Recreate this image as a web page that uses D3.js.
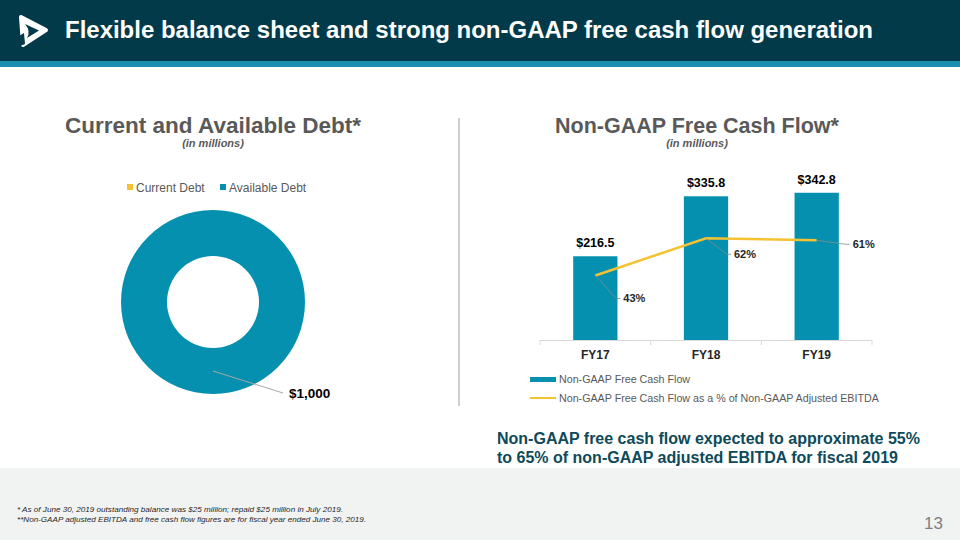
<!DOCTYPE html>
<html>
<head>
<meta charset="utf-8">
<script src="https://cdn.jsdelivr.net/npm/d3@7"></script>
<style>
  html, body { margin: 0; padding: 0; background: #fff; }
  svg { display: block; font-family: Arial, "Liberation Sans", sans-serif; }
</style>
</head>
<body>
<svg id="chart" width="960" height="540"></svg>
<script>
// donut data (in millions)
var debtNames = ["Current Debt", "Available Debt"];
var debtValues = [0, 1000];
var debtColors = ["#f5c231", "#0590b0"];

// free cash flow data
var years = ["FY17", "FY18", "FY19"];
var fcfValues = [216.5, 335.8, 342.8];
var fcfPct = [43, 62, 61];

// leader offsets for the % labels (elbow relative to the point)
var pctLeader = [[21, 23], [21, 16], [29, 4]];

var svg = d3.select("#chart");
var grey = "#595959";

// header
svg.append("rect").attr("x", 0).attr("y", 0).attr("width", 960).attr("height", 62).attr("fill", "#033a49");
svg.append("rect").attr("x", 0).attr("y", 61).attr("width", 960).attr("height", 6).attr("fill", "#1b8db0");

// logo
var logo = svg.append("g");
logo.append("path")
  .attr("d", "M21,17 L46,30 L23,45 Z")
  .attr("fill", "#fff").attr("stroke", "#fff")
  .attr("stroke-width", 4).attr("stroke-linejoin", "round");
logo.append("path")
  .attr("d", "M25,24 L39,30.5 L27,38 Q31,31 25,24 Z")
  .attr("fill", "#033a49");
logo.append("path")
  .attr("d", "M19,36 L24,33 L25,44 L20,46 Z")
  .attr("fill", "#033a49");

svg.append("text")
  .attr("x", 65).attr("y", 38)
  .attr("fill", "#fff")
  .attr("font-size", 23).attr("font-weight", "bold")
  .attr("textLength", 808).attr("lengthAdjust", "spacingAndGlyphs")
  .text("Flexible balance sheet and strong non-GAAP free cash flow generation");

// footer band
svg.append("rect").attr("x", 0).attr("y", 468).attr("width", 960).attr("height", 72).attr("fill", "#f1f3f3");

svg.append("text").attr("x", 17).attr("y", 512)
  .attr("font-size", 7.5).attr("font-style", "italic").attr("fill", "#262626")
  .attr("textLength", 326).attr("lengthAdjust", "spacingAndGlyphs")
  .text("* As of June 30, 2019 outstanding balance was $25 million; repaid $25 million in July 2019.");
svg.append("text").attr("x", 17).attr("y", 522)
  .attr("font-size", 7.5).attr("font-style", "italic").attr("fill", "#262626")
  .attr("textLength", 349).attr("lengthAdjust", "spacingAndGlyphs")
  .text("**Non-GAAP adjusted EBITDA and free cash flow figures are for fiscal year ended June 30, 2019.");
svg.append("text").attr("x", 943).attr("y", 529)
  .attr("text-anchor", "end")
  .attr("font-size", 17).attr("fill", "#7f7f7f")
  .text("13");

// divider
svg.append("line").attr("x1", 459).attr("x2", 459).attr("y1", 118).attr("y2", 406)
  .attr("stroke", "#bfbfbf").attr("stroke-width", 1.5);

// ---------- left: donut ----------
svg.append("text").attr("x", 213).attr("y", 133)
  .attr("text-anchor", "middle").attr("font-size", 22.5).attr("font-weight", "bold")
  .attr("fill", grey).text("Current and Available Debt*");
svg.append("text").attr("x", 213).attr("y", 147)
  .attr("text-anchor", "middle").attr("font-size", 11).attr("font-weight", "bold")
  .attr("font-style", "italic").attr("fill", grey).text("(in millions)");

var leg = svg.append("g");
var legX = [127, 220];
debtNames.forEach(function(name, i) {
  leg.append("rect").attr("x", legX[i]).attr("y", 184).attr("width", 6).attr("height", 6)
    .attr("fill", debtColors[i]);
  leg.append("text").attr("x", legX[i] + 9).attr("y", 191.5)
    .attr("font-size", 12).attr("fill", grey).text(name);
});

var cx = 213, cy = 302;
var pie = d3.pie().sort(null);
var arc = d3.arc().innerRadius(46).outerRadius(92);
var labelArc = d3.arc().innerRadius(69).outerRadius(69);
var donut = svg.append("g").attr("transform", "translate(" + cx + "," + cy + ")");

var arcs = pie(debtValues);
donut.selectAll("path")
  .data(arcs)
  .enter().append("path")
    .attr("d", arc)
    .attr("fill", function(d, i) { return debtColors[i]; });

arcs.forEach(function(d) {
  if (d.value == 0) return;
  var c = labelArc.centroid(d);
  donut.append("polyline")
    .attr("points", [c, [c[0] + 70, c[1] + 22]].map(function(p) { return p.join(","); }).join(" "))
    .attr("fill", "none").attr("stroke", "#a6a6a6").attr("stroke-width", 1);
  donut.append("text")
    .attr("x", c[0] + 76).attr("y", c[1] + 27)
    .attr("font-size", 13.5).attr("font-weight", "bold").attr("fill", "#000")
    .text("$" + d3.format(",")(d.value));
});

// ---------- right: free cash flow ----------
svg.append("text").attr("x", 697).attr("y", 133)
  .attr("text-anchor", "middle").attr("font-size", 21.5).attr("font-weight", "bold")
  .attr("fill", grey).text("Non-GAAP Free Cash Flow*");
svg.append("text").attr("x", 697).attr("y", 147)
  .attr("text-anchor", "middle").attr("font-size", 11).attr("font-weight", "bold")
  .attr("font-style", "italic").attr("fill", grey).text("(in millions)");

var x = d3.scaleBand().domain(years).range([540, 872]).padding(0);
var y = d3.scaleLinear().domain([50, 400]).range([340, 164]);
var yPct = d3.scaleLinear().domain([10, 100]).range([340, 164]);
var barW = x.bandwidth() * 0.4;
var mid = function(d) { return x(d) + x.bandwidth() / 2; };

var bars = svg.append("g");
bars.selectAll("rect")
  .data(fcfValues)
  .enter().append("rect")
    .attr("x", function(d, i) { return mid(years[i]) - barW / 2; })
    .attr("y", function(d) { return y(d); })
    .attr("width", barW)
    .attr("height", function(d) { return y.range()[0] - y(d); })
    .attr("fill", "#0590b0");

bars.selectAll("text")
  .data(fcfValues)
  .enter().append("text")
    .attr("x", function(d, i) { return mid(years[i]); })
    .attr("y", function(d) { return y(d) - 9; })
    .attr("text-anchor", "middle")
    .attr("font-size", 12.5).attr("font-weight", "bold").attr("fill", "#000")
    .text(function(d) { return "$" + d3.format(".1f")(d); });

// axis
var ax = svg.append("g");
ax.append("line").attr("x1", 540).attr("x2", 872).attr("y1", 340.5).attr("y2", 340.5)
  .attr("stroke", "#d9d9d9");
years.concat([null]).forEach(function(d) {
  var tx = d ? x(d) : x.range()[1];
  ax.append("line").attr("x1", tx).attr("x2", tx).attr("y1", 340).attr("y2", 345)
    .attr("stroke", "#d9d9d9");
});
ax.selectAll("text.cat")
  .data(years)
  .enter().append("text")
    .attr("class", "cat")
    .attr("x", mid).attr("y", 359)
    .attr("text-anchor", "middle")
    .attr("font-size", 12).attr("font-weight", "bold").attr("fill", "#262626")
    .text(function(d) { return d; });

// % line
var line = d3.line()
  .x(function(d, i) { return mid(years[i]); })
  .y(function(d) { return yPct(d); });
svg.append("path").datum(fcfPct)
  .attr("d", line)
  .attr("fill", "none").attr("stroke", "#f5c231").attr("stroke-width", 2.5);

fcfPct.forEach(function(d, i) {
  var px = mid(years[i]), py = yPct(d);
  var ex = px + pctLeader[i][0], ey = py + pctLeader[i][1];
  svg.append("polyline")
    .attr("points", px + "," + py + " " + ex + "," + ey + " " + (ex + 4) + "," + ey)
    .attr("fill", "none").attr("stroke", "#7f8c8d").attr("stroke-width", 0.8);
  svg.append("text")
    .attr("x", ex + 7).attr("y", ey + 4)
    .attr("font-size", 11).attr("font-weight", "bold").attr("fill", "#262626")
    .text(d + "%");
});

// legend
var rl = svg.append("g");
rl.append("rect").attr("x", 530).attr("y", 377).attr("width", 26).attr("height", 5).attr("fill", "#0590b0");
rl.append("text").attr("x", 559).attr("y", 383).attr("font-size", 10.7).attr("fill", grey)
  .text("Non-GAAP Free Cash Flow");
rl.append("line").attr("x1", 530).attr("x2", 556).attr("y1", 398).attr("y2", 398)
  .attr("stroke", "#f5c231").attr("stroke-width", 2);
rl.append("text").attr("x", 559).attr("y", 402).attr("font-size", 10.7).attr("fill", grey)
  .text("Non-GAAP Free Cash Flow as a % of Non-GAAP Adjusted EBITDA");

// takeaway
svg.append("text").attr("x", 497).attr("y", 444)
  .attr("font-size", 16).attr("font-weight", "bold").attr("fill", "#0d4a5a")
  .text("Non-GAAP free cash flow expected to approximate 55%");
svg.append("text").attr("x", 497).attr("y", 463)
  .attr("font-size", 16).attr("font-weight", "bold").attr("fill", "#0d4a5a")
  .text("to 65% of non-GAAP adjusted EBITDA for fiscal 2019");
</script>
</body>
</html>
